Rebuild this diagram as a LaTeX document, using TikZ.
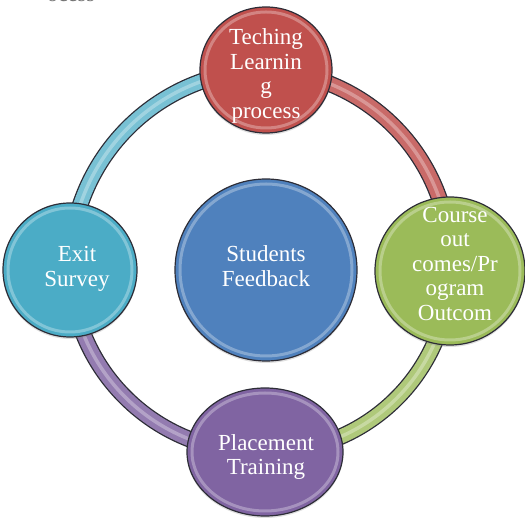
\documentclass[tikz,border=0pt]{standalone}
\usepackage{fontspec}
\setmainfont{Liberation Serif}
\usetikzlibrary{positioning,shapes.geometric,backgrounds,shadows}
\definecolor{ocred}{RGB}{192,80,77}
\definecolor{ocgreen}{RGB}{155,187,89}
\definecolor{ocpurple}{RGB}{128,100,162}
\definecolor{ocaqua}{RGB}{75,172,198}
\definecolor{ocblue}{RGB}{79,129,189}
\definecolor{rimline}{RGB}{45,45,55}
\tikzset{
  bubble/.style n args={3}{ellipse,draw=rimline,line width=1.2pt,fill=#1,
    minimum width=2*#2,minimum height=2*#3,inner sep=0pt,
    drop shadow={opacity=.25,shadow xshift=0pt,shadow yshift=-2pt},
    path picture={\draw[white,draw opacity=.3,line width=3pt]
      (path picture bounding box.center) ellipse[x radius=#2-5pt,y radius=#3-5pt];}},
  band/.style={draw=#1,line width=14pt,
    preaction={draw=rimline,line width=16.6pt},
    postaction={draw=white,draw opacity=.3,line width=3.5pt}},
  lbl/.style={text=white,align=center,inner sep=0pt,font=\fontsize{23}{24.5}\selectfont},
  capt/.style={text=black!55,inner sep=0pt,font=\fontsize{22}{24}\selectfont},
}
\begin{document}
\begin{tikzpicture}[x=1pt,y=1pt]
  \useasboundingbox (0,0) rectangle (525,519);
  % cut-off caption at the top
  \begin{scope}
    \clip (0,0) rectangle (525,519);
    \node[capt,anchor=base west] (cap) at (47,517.5) {ocess};
  \end{scope}
  % the four outer bubbles and the hub
  \node[bubble={ocred}{66pt}{63pt}]     (teach) at (266,449) {};
  \node[bubble={ocgreen}{75pt}{74pt}]   (course) at (450,248) {};
  \node[bubble={ocpurple}{78pt}{64pt}]  (place) at (265,67) {};
  \node[bubble={ocaqua}{67pt}{67pt}]    (exit) at (70,249) {};
  \node[bubble={ocblue}{91pt}{91pt}]    (hub) at (266,249) {};
  % labels
  \node[lbl] (teach-t)  at (266,443) {Teching\\Learnin\\g\\process};
  \node[lbl] (course-t) at (455,255) {Course\\out\\comes/Pr\\ogram\\Outcom};
  \node[lbl] (place-t)  at (266,62)  {Placement\\Training};
  \node[lbl] (exit-t)   at (77,250)  {Exit\\Survey};
  \node[lbl] (hub-t)    at (266,253) {Students\\Feedback};
  % ring segments behind the bubbles
  \begin{scope}[on background layer]
    \draw[band=ocaqua!75!white]   (exit.center)   to[bend left=45] (teach.center);
    \draw[band=ocred!85!white]    (teach.center)  to[bend left=45] (course.center);
    \draw[band=ocgreen!80!white]  (course.center) to[bend left=45] (place.center);
    \draw[band=ocpurple!85!white] (place.center)  to[bend left=45] (exit.center);
  \end{scope}
\end{tikzpicture}
\end{document}
